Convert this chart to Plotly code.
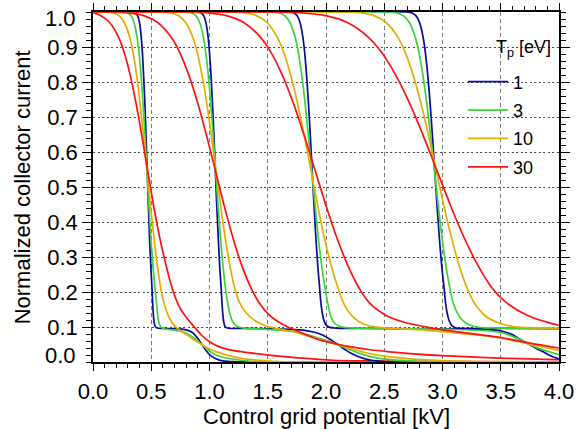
import plotly.graph_objects as go

temps = ["1", "3", "10", "30"]
colors = ["#0a0a9e", "#3cd43c", "#e4ae00", "#ff1212"]

x_tick_vals = [0.0, 0.5, 1.0, 1.5, 2.0, 2.5, 3.0, 3.5, 4.0]
x_tick_text = ["0.0", "0.5", "1.0", "1.5", "2.0", "2.5", "3.0", "3.5", "4.0"]
y_tick_vals = [0.0, 0.1, 0.2, 0.3, 0.4, 0.5, 0.6, 0.7, 0.8, 0.9, 1.0]
y_tick_text = ["0.0", "0.1", "0.2", "0.3", "0.4", "0.5", "0.6", "0.7", "0.8", "0.9", "1.0"]

# ---- group 1 (step near 0.47 kV) ----
x_g1_t1 = [0.0, 0.343, 0.363, 0.383, 0.399, 0.414, 0.424, 0.434, 0.445, 0.455, 0.465, 0.475, 0.485, 0.496, 0.506, 0.512, 0.518, 0.525, 0.535, 0.55, 0.6, 0.7, 0.78, 0.85, 0.9, 0.937, 0.97, 1.0, 1.05, 1.1, 1.2, 1.35, 4.0]
y_g1_t1 = [1.0, 1.0, 0.998, 0.989, 0.970, 0.929, 0.884, 0.821, 0.742, 0.649, 0.549, 0.448, 0.355, 0.276, 0.213, 0.17, 0.135, 0.113, 0.101, 0.097, 0.096, 0.095, 0.093, 0.085, 0.067, 0.049, 0.033, 0.021, 0.01, 0.004, 0.001, 0.0, 0.0]
x_g1_t3 = [0.0, 0.259, 0.293, 0.327, 0.352, 0.378, 0.395, 0.412, 0.429, 0.446, 0.463, 0.48, 0.497, 0.514, 0.531, 0.548, 0.56, 0.575, 0.6, 0.68, 0.737, 0.8, 0.852, 0.9, 0.937, 0.98, 1.023, 1.1, 1.195, 1.366, 1.6, 4.0]
y_g1_t3 = [1.0, 1.0, 0.998, 0.989, 0.970, 0.929, 0.884, 0.821, 0.742, 0.649, 0.549, 0.448, 0.355, 0.276, 0.213, 0.16, 0.122, 0.104, 0.096, 0.092, 0.089, 0.083, 0.072, 0.06, 0.049, 0.037, 0.026, 0.015, 0.0086, 0.002, 0.0, 0.0]
x_g1_t10 = [0.0, 0.105, 0.165, 0.225, 0.269, 0.314, 0.344, 0.374, 0.403, 0.433, 0.463, 0.493, 0.523, 0.552, 0.582, 0.612, 0.657, 0.701, 0.75, 0.8, 0.86, 0.937, 1.0, 1.137, 1.25, 1.366, 1.55, 1.8, 4.0]
y_g1_t10 = [1.0, 1.0, 0.998, 0.989, 0.970, 0.929, 0.884, 0.821, 0.742, 0.649, 0.549, 0.448, 0.355, 0.276, 0.21, 0.165, 0.125, 0.103, 0.09, 0.079, 0.065, 0.049, 0.037, 0.021, 0.012, 0.0066, 0.002, 0.0, 0.0]
x_g1_t30 = [0.0, 0.068, 0.143, 0.218, 0.268, 0.318, 0.368, 0.418, 0.468, 0.518, 0.546, 0.576, 0.61, 0.647, 0.69, 0.745, 0.8, 0.87, 0.937, 1.0, 1.08, 1.2, 1.35, 1.55, 1.75, 2.06, 2.4, 2.72, 3.2, 4.0]
y_g1_t30 = [0.998, 0.989, 0.970, 0.929, 0.884, 0.821, 0.742, 0.649, 0.549, 0.45, 0.4, 0.35, 0.3, 0.25, 0.2, 0.155, 0.128, 0.1, 0.075, 0.058, 0.044, 0.033, 0.026, 0.018, 0.012, 0.005, 0.003, 0.002, 0.001, 0.0]

# ---- group 2 (step near 1.05 kV) ----
x_g2_t1 = [0.0, 0.901, 0.926, 0.951, 0.969, 0.988, 1.0, 1.013, 1.025, 1.038, 1.05, 1.062, 1.075, 1.087, 1.1, 1.107, 1.115, 1.123, 1.135, 1.154, 1.3, 1.52, 1.7, 1.8, 1.9, 1.97, 2.03, 2.107, 2.17, 2.22, 2.28, 2.36, 2.47, 2.6, 4.0]
y_g2_t1 = [1.0, 1.0, 0.998, 0.989, 0.970, 0.929, 0.884, 0.821, 0.742, 0.649, 0.549, 0.448, 0.355, 0.276, 0.213, 0.17, 0.135, 0.113, 0.101, 0.097, 0.096, 0.095, 0.093, 0.091, 0.085, 0.077, 0.066, 0.049, 0.034, 0.024, 0.015, 0.007, 0.002, 0.0, 0.0]
x_g2_t3 = [0.0, 0.80, 0.842, 0.884, 0.916, 0.947, 0.968, 0.989, 1.01, 1.031, 1.052, 1.073, 1.094, 1.115, 1.136, 1.155, 1.17, 1.19, 1.215, 1.25, 1.3, 1.49, 1.7, 1.8, 1.9, 2.0, 2.107, 2.2, 2.321, 2.45, 2.55, 2.72, 3.0, 3.3, 4.0]
y_g2_t3 = [1.0, 1.0, 0.998, 0.989, 0.970, 0.929, 0.884, 0.821, 0.742, 0.649, 0.549, 0.448, 0.355, 0.276, 0.213, 0.17, 0.145, 0.122, 0.108, 0.1, 0.097, 0.093, 0.088, 0.082, 0.072, 0.062, 0.049, 0.036, 0.021, 0.011, 0.007, 0.003, 0.0005, 0.0, 0.0]
x_g2_t10 = [0.0, 0.575, 0.655, 0.735, 0.795, 0.855, 0.895, 0.935, 0.975, 1.015, 1.055, 1.095, 1.135, 1.175, 1.215, 1.255, 1.315, 1.379, 1.44, 1.494, 1.6, 1.695, 1.8, 1.897, 2.0, 2.098, 2.2, 2.3, 2.47, 2.72, 3.0, 3.5, 4.0]
y_g2_t10 = [1.0, 1.0, 0.998, 0.989, 0.970, 0.929, 0.884, 0.821, 0.742, 0.649, 0.549, 0.448, 0.355, 0.276, 0.213, 0.172, 0.14, 0.121, 0.109, 0.102, 0.094, 0.088, 0.079, 0.069, 0.059, 0.05, 0.04, 0.03, 0.018, 0.009, 0.004, 0.001, 0.0]
x_g2_t30 = [0.0, 0.137, 0.289, 0.441, 0.555, 0.669, 0.745, 0.821, 0.897, 0.973, 1.049, 1.125, 1.201, 1.277, 1.353, 1.429, 1.505, 1.58, 1.66, 1.75, 1.85, 1.954, 2.098, 2.2, 2.38, 2.55, 2.72, 3.0, 3.5, 4.0]
y_g2_t30 = [1.0, 1.0, 0.998, 0.989, 0.970, 0.929, 0.884, 0.821, 0.742, 0.649, 0.549, 0.448, 0.355, 0.276, 0.214, 0.168, 0.137, 0.117, 0.102, 0.089, 0.075, 0.062, 0.051, 0.044, 0.035, 0.029, 0.024, 0.018, 0.011, 0.0066]

# ---- group 3 (step near 1.88 kV) ----
x_g3_t1 = [0.0, 1.689, 1.721, 1.753, 1.777, 1.801, 1.817, 1.833, 1.849, 1.865, 1.881, 1.897, 1.913, 1.929, 1.945, 1.956, 1.968, 1.985, 2.005, 2.035, 2.08, 2.3, 2.64, 3.0, 3.3, 3.45, 3.52, 3.58, 3.665, 3.75, 3.81, 3.865, 3.93, 4.0]
y_g3_t1 = [1.0, 1.0, 0.998, 0.989, 0.970, 0.929, 0.884, 0.821, 0.742, 0.649, 0.549, 0.448, 0.355, 0.276, 0.213, 0.17, 0.14, 0.116, 0.104, 0.099, 0.097, 0.096, 0.095, 0.095, 0.094, 0.091, 0.087, 0.081, 0.065, 0.049, 0.038, 0.029, 0.017, 0.009]
x_g3_t3 = [0.0, 1.534, 1.591, 1.648, 1.691, 1.734, 1.763, 1.791, 1.82, 1.848, 1.877, 1.906, 1.934, 1.963, 1.991, 2.02, 2.045, 2.075, 2.11, 2.155, 2.5, 3.0, 3.3, 3.49, 3.58, 3.665, 3.75, 3.85, 3.93, 4.0]
y_g3_t3 = [1.0, 1.0, 0.998, 0.989, 0.970, 0.929, 0.884, 0.821, 0.742, 0.649, 0.549, 0.448, 0.355, 0.276, 0.213, 0.16, 0.127, 0.11, 0.103, 0.099, 0.096, 0.094, 0.091, 0.085, 0.076, 0.064, 0.05, 0.036, 0.028, 0.021]
x_g3_t10 = [0.0, 1.174, 1.29, 1.406, 1.493, 1.58, 1.638, 1.696, 1.754, 1.812, 1.87, 1.928, 1.986, 2.044, 2.102, 2.16, 2.247, 2.334, 2.45, 2.7, 3.0, 3.3, 3.5, 3.75, 4.0]
y_g3_t10 = [1.0, 1.0, 0.998, 0.989, 0.970, 0.929, 0.884, 0.821, 0.742, 0.649, 0.549, 0.448, 0.355, 0.276, 0.213, 0.162, 0.124, 0.107, 0.099, 0.094, 0.087, 0.077, 0.068, 0.051, 0.033]
x_g3_t30 = [0.0, 0.777, 0.965, 1.153, 1.294, 1.435, 1.529, 1.623, 1.717, 1.811, 1.905, 1.999, 2.093, 2.187, 2.281, 2.375, 2.516, 2.657, 2.845, 3.0, 3.25, 3.5, 3.75, 4.0]
y_g3_t30 = [1.0, 1.0, 0.998, 0.989, 0.970, 0.929, 0.884, 0.821, 0.742, 0.649, 0.549, 0.448, 0.355, 0.276, 0.213, 0.168, 0.133, 0.115, 0.101, 0.092, 0.081, 0.07, 0.054, 0.04]

# ---- group 4 (step near 2.94 kV) ----
x_g4_t1 = [0.0, 2.693, 2.733, 2.773, 2.803, 2.833, 2.853, 2.873, 2.893, 2.913, 2.933, 2.953, 2.973, 2.993, 3.013, 3.026, 3.04, 3.058, 3.08, 3.11, 3.2, 3.5, 4.0]
y_g4_t1 = [1.0, 1.0, 0.998, 0.989, 0.970, 0.929, 0.884, 0.821, 0.742, 0.649, 0.549, 0.448, 0.355, 0.276, 0.213, 0.17, 0.14, 0.117, 0.104, 0.098, 0.096, 0.096, 0.095]
x_g4_t3 = [0.0, 2.534, 2.6, 2.666, 2.716, 2.765, 2.798, 2.831, 2.864, 2.897, 2.93, 2.963, 2.996, 3.029, 3.062, 3.095, 3.145, 3.194, 3.26, 3.32, 3.5, 4.0]
y_g4_t3 = [1.0, 1.0, 0.998, 0.989, 0.970, 0.929, 0.884, 0.821, 0.742, 0.649, 0.549, 0.448, 0.355, 0.276, 0.213, 0.165, 0.13, 0.113, 0.103, 0.099, 0.097, 0.096]
x_g4_t10 = [0.0, 2.153, 2.285, 2.417, 2.516, 2.615, 2.681, 2.747, 2.813, 2.879, 2.945, 3.011, 3.077, 3.143, 3.209, 3.275, 3.374, 3.473, 3.605, 3.737, 4.0]
y_g4_t10 = [1.0, 1.0, 0.998, 0.989, 0.970, 0.929, 0.884, 0.821, 0.742, 0.649, 0.549, 0.448, 0.355, 0.276, 0.213, 0.168, 0.13, 0.113, 0.101, 0.098, 0.097]
x_g4_t30 = [0.0, 1.534, 1.77, 2.006, 2.183, 2.36, 2.478, 2.596, 2.714, 2.832, 2.95, 3.068, 3.186, 3.304, 3.422, 3.54, 3.717, 3.894, 4.0]
y_g4_t30 = [1.0, 1.0, 0.998, 0.989, 0.970, 0.929, 0.884, 0.821, 0.742, 0.649, 0.549, 0.448, 0.355, 0.276, 0.213, 0.172, 0.135, 0.114, 0.105]

groups = [
    [(x_g1_t1, y_g1_t1), (x_g1_t3, y_g1_t3), (x_g1_t10, y_g1_t10), (x_g1_t30, y_g1_t30)],
    [(x_g2_t1, y_g2_t1), (x_g2_t3, y_g2_t3), (x_g2_t10, y_g2_t10), (x_g2_t30, y_g2_t30)],
    [(x_g3_t1, y_g3_t1), (x_g3_t3, y_g3_t3), (x_g3_t10, y_g3_t10), (x_g3_t30, y_g3_t30)],
    [(x_g4_t1, y_g4_t1), (x_g4_t3, y_g4_t3), (x_g4_t10, y_g4_t10), (x_g4_t30, y_g4_t30)],
]

FONT = "Liberation Sans, Arial, Helvetica, sans-serif"

fig = go.Figure()
for gi, grp in enumerate(groups):
    for ti, (xs, ys) in enumerate(grp):
        fig.add_trace(go.Scatter(
            x=xs, y=ys, mode="lines",
            line=dict(color=colors[ti], width=1.7, shape="spline", smoothing=1.0),
            name=temps[ti], legendgroup=temps[ti], showlegend=(gi == 0),
            hoverinfo="skip",
        ))

axis_common = dict(
    showline=True, linecolor="black", linewidth=1.5, mirror="allticks",
    ticks="outside", tickcolor="black", tickwidth=1.3, automargin=False,
    tickfont=dict(family=FONT, size=22, color="black"),
    zeroline=False, showgrid=True, gridwidth=1, layer="below traces",
)

fig.update_xaxes(
    range=[0, 4], tickvals=x_tick_vals, ticktext=x_tick_text, ticklen=7,
    ticklabelstandoff=2,
    gridcolor="#7a7a7a", griddash="4px,3px",
    minor=dict(dtick=0.1, ticklen=4, ticks="outside", tickcolor="black", tickwidth=1.2, showgrid=False),
    **axis_common,
)
# inner y labels drawn by the axis; the end labels (0.0, 1.0) are nudged inward as annotations
fig.update_yaxes(
    range=[0, 1], tickvals=y_tick_vals[1:-1], ticktext=y_tick_text[1:-1], ticklen=9,
    gridcolor="#4a4a4a", griddash="2px,2.5px",
    minor=dict(dtick=0.02, ticklen=5, ticks="outside", tickcolor="black", tickwidth=1.2, showgrid=False),
    **axis_common,
)

annotations = [
    dict(text=y_tick_text[0], x=0, y=y_tick_vals[0], xref="paper", yref="y", xanchor="right", yanchor="middle",
         xshift=-15, yshift=7, showarrow=False, font=dict(family=FONT, size=22, color="black")),
    dict(text=y_tick_text[-1], x=0, y=y_tick_vals[-1], xref="paper", yref="y", xanchor="right", yanchor="middle",
         xshift=-15, yshift=-6, showarrow=False, font=dict(family=FONT, size=22, color="black")),
    dict(text="Control grid potential [kV]", x=0.5, y=-0.156, xref="paper", yref="paper",
         xanchor="center", yanchor="middle", showarrow=False, font=dict(family=FONT, size=22, color="black")),
    dict(text="Normalized collector current", x=-0.1516, y=0.5, xref="paper", yref="paper", textangle=-90,
         xanchor="center", yanchor="middle", showarrow=False, font=dict(family=FONT, size=22, color="black")),
    dict(text="T<sub>p</sub> [eV]", x=0.861, y=0.897, xref="paper", yref="paper",
         xanchor="left", yanchor="middle", showarrow=False, font=dict(family=FONT, size=18, color="black")),
]

fig.update_layout(
    template="none",
    width=576, height=429,
    margin=dict(l=93, r=17, t=12, b=67, pad=0),
    paper_bgcolor="white", plot_bgcolor="white",
    font=dict(family=FONT, size=18, color="black"),
    showlegend=True,
    legend=dict(x=0.794, y=0.853, xanchor="left", yanchor="top", bgcolor="rgba(0,0,0,0)",
                borderwidth=0, font=dict(family=FONT, size=18, color="black"),
                tracegroupgap=2, itemwidth=40),
    annotations=annotations,
)

fig.write_html("out.html")
